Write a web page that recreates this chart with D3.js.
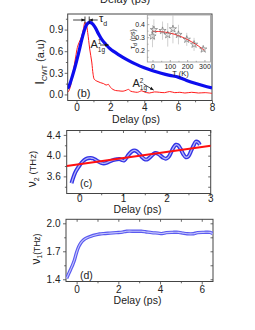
<!DOCTYPE html>
<html>
<head>
<meta charset="utf-8">
<script src="https://cdn.jsdelivr.net/npm/d3@7"></script>
<style>
  html, body { margin: 0; padding: 0; background: #fff; }
  svg { display: block; }
  text { font-family: "Liberation Sans", Arial, sans-serif; fill: #222; }
</style>
</head>
<body>
<svg id="chart" width="255" height="330"></svg>
<script>
// ---- data ----
// (b) CWT intensity vs delay
const cwtBlue = [[-0.52,0.08],[-0.4,0.14],[-0.25,0.25],[-0.1,0.37],[0,0.46],[0.15,0.6],[0.3,0.75],
  [0.45,0.88],[0.6,0.97],[0.75,1.0],[0.9,0.99],[1.1,0.93],[1.3,0.84],[1.5,0.76],[1.75,0.69],[2,0.63],
  [2.5,0.55],[3,0.48],[3.5,0.42],[4,0.37],[4.5,0.33],[5,0.295],[5.5,0.265],[6,0.24],[6.5,0.195],
  [7,0.155],[7.5,0.12],[8,0.09]];
const cwtRed = [[-0.52,0.03],[-0.45,0.05],[-0.35,0.12],[-0.25,0.25],[-0.15,0.38],[-0.05,0.52],
  [0.05,0.65],[0.15,0.72],[0.3,0.8],[0.4,0.9],[0.5,1.0],[0.58,0.97],[0.66,0.86],[0.78,0.63],[0.9,0.45],
  [0.98,0.28],[1.05,0.21],[1.2,0.185],[1.4,0.165],[1.6,0.15],[1.75,0.13],[1.88,0.14],[2.0,0.1],
  [2.15,0.07],[2.3,0.055],[2.5,0.05],[2.75,0.045],[2.95,0.06],[3.07,0.07],[3.2,0.045],[3.4,0.035],
  [3.6,0.03],[3.85,0.05],[4.0,0.035],[4.3,0.02],[4.6,0.035],[4.9,0.03],[5.2,0.025],[5.5,0.04],
  [5.8,0.025],[6.1,0.03],[6.4,0.02],[6.8,0.03],[7.2,0.02],[7.6,0.025],[8,0.015]];
// inset: tau_d vs temperature
const insetT   = [0, 8, 58, 88, 118, 150, 198, 240, 293];
const insetTau = [0.308, 0.357, 0.35, 0.318, 0.363, 0.32, 0.283, 0.245, 0.208];
const insetErr = [0.085, 0.08, 0.07, 0.09, 0.11, 0.075, 0.05, 0.05, 0.02];
const fitT   = [0, 50, 100, 150, 200, 250, 300];
const fitTau = [0.345, 0.342, 0.332, 0.312, 0.283, 0.246, 0.2];
// (c) nu2 vs delay
const nu2 = [[-0.18,3.47],[-0.13,3.6],[-0.08,3.7],[-0.03,3.77],[0.02,3.83],[0.08,3.89],[0.14,3.93],
  [0.2,3.95],[0.26,3.955],[0.32,3.945],[0.38,3.915],[0.44,3.885],[0.5,3.86],[0.56,3.85],[0.62,3.86],
  [0.68,3.885],[0.74,3.905],[0.8,3.92],[0.86,3.93],[0.92,3.935],[0.98,3.915],[1.02,3.905],[1.07,3.95],
  [1.13,4.02],[1.2,4.08],[1.26,4.1],[1.32,4.08],[1.38,4.03],[1.44,3.97],[1.5,3.93],[1.56,3.93],
  [1.62,3.97],[1.68,4.02],[1.74,4.05],[1.8,4.04],[1.86,4.0],[1.92,3.96],[1.98,3.94],[2.04,3.97],
  [2.1,4.06],[2.16,4.16],[2.21,4.21],[2.26,4.2],[2.32,4.13],[2.38,4.03],[2.44,3.97],[2.5,3.99],
  [2.56,4.09],[2.62,4.2],[2.67,4.27],[2.72,4.26],[2.76,4.21]];
const nu2Fit = [[-0.29,3.80],[3.01,4.19]];
// (d) nu1 vs delay
const nu1 = [[-0.48,1.41],[-0.4,1.45],[-0.3,1.5],[-0.2,1.55],[-0.1,1.61],[0,1.69],[0.1,1.75],
  [0.2,1.79],[0.35,1.825],[0.5,1.845],[0.7,1.862],[0.9,1.875],[1.1,1.885],[1.3,1.89],[1.6,1.895],
  [1.9,1.9],[2.2,1.905],[2.4,1.915],[2.8,1.915],[3.1,1.915],[3.3,1.91],[3.6,1.9],[3.9,1.895],
  [4.1,1.89],[4.3,1.9],[4.6,1.903],[4.9,1.903],[5.1,1.895],[5.3,1.888],[5.6,1.888],[5.8,1.9],
  [6.1,1.903],[6.4,1.903],[6.52,1.89]];

const bXTicks = [0, 2, 4, 6, 8], bYTicks = [0, 0.3, 0.6, 0.9];
const cXTicks = [0, 1, 2, 3], cYTicks = [3.6, 4.0, 4.4];
const dXTicks = [0, 2, 4, 6], dYTicks = [1.4, 1.7, 2.0];

const svg = d3.select("#chart");
const FRAME = "#444";

// one framed panel with scales + axes
function panel(o) {
  const x = d3.scaleLinear().domain(o.xd).range([o.l, o.r]);
  const y = d3.scaleLinear().domain(o.yd).range([o.b, o.t]);
  const g = svg.append("g");
  const fs = o.fs || 10;

  const bx = g.append("g").attr("transform", `translate(0,${o.b})`)
    .call(d3.axisBottom(x).tickValues(o.xt).tickSize(o.tick)
      .tickFormat(o.xfmt || d3.format("d")));
  // put the digits' baseline exactly where the reference has them
  bx.selectAll("text").attr("dy", null).attr("y", o.xlab);
  g.append("g").attr("transform", `translate(${o.l},0)`)
    .call(d3.axisLeft(y).tickValues(o.yt).tickSize(o.tick).tickPadding(o.ypad)
      .tickFormat(o.yfmt || d3.format(".1f")));
  // minor ticks
  if (o.xm) g.append("g").attr("transform", `translate(0,${o.b})`)
    .call(d3.axisBottom(x).tickValues(o.xm).tickSize(o.tick * 0.6).tickFormat(""));
  if (o.ym) g.append("g").attr("transform", `translate(${o.l},0)`)
    .call(d3.axisLeft(y).tickValues(o.ym).tickSize(o.tick * 0.6).tickFormat(""));
  // mirror ticks, inward
  if (o.mirror) {
    g.append("g").attr("transform", `translate(0,${o.t})`)
      .call(d3.axisBottom(x).tickValues(o.xt.concat(o.xm || [])).tickSize(2.5).tickFormat(""));
    g.append("g").attr("transform", `translate(${o.r},0)`)
      .call(d3.axisRight(y).tickValues(o.yt.concat(o.ym || [])).tickSize(-2.5).tickFormat(""));
  }
  g.selectAll(".domain").remove();
  g.selectAll(".tick line").attr("stroke", o.stroke || FRAME).attr("stroke-width", 0.8);
  g.selectAll(".tick text").attr("font-size", fs).attr("font-family", null).style("fill", "#222");

  g.append("rect").attr("x", o.l).attr("y", o.t)
    .attr("width", o.r - o.l).attr("height", o.b - o.t)
    .attr("fill", o.fill || "none").attr("stroke", o.stroke || FRAME).attr("stroke-width", o.sw || 1)
    .lower();
  const clipId = "clip" + Math.random().toString(36).slice(2, 7);
  svg.append("clipPath").attr("id", clipId).append("rect")
    .attr("x", o.l).attr("y", o.t).attr("width", o.r - o.l).attr("height", o.b - o.t);
  const plot = g.append("g").attr("clip-path", `url(#${clipId})`);
  return { x, y, g, plot };
}

const line = (p) => d3.line().x(d => p.x(d[0])).y(d => p.y(d[1])).curve(d3.curveCatmullRom);

// ---- cut-off label from the panel above ----
svg.append("text").attr("x", 125).attr("y", 3).attr("text-anchor", "middle")
  .attr("font-size", 11).text("Delay (ps)");

// ---- (b) ----
const pb = panel({ l: 67.7, r: 212, t: 14, b: 100.5, xd: [-0.52, 8], yd: [-0.084, 1.116],
  xt: bXTicks, yt: bYTicks, xm: [1, 3, 5, 7], ym: [0.15, 0.45, 0.75, 1.05],
  tick: 3, xlab: 10.5, ypad: 1.5, fs: 10 });
pb.plot.append("path").attr("d", line(pb)(cwtRed))
  .attr("fill", "none").attr("stroke", "#ff1a1a").attr("stroke-width", 1);
pb.plot.append("path").attr("d", line(pb)(cwtBlue))
  .attr("fill", "none").attr("stroke", "#0d0dee").attr("stroke-width", 3.2);

svg.append("text").attr("x", 136).attr("y", 123).attr("text-anchor", "middle")
  .attr("font-size", 10.5).text("Delay (ps)");
const yb = svg.append("text").attr("transform", "translate(44,62) rotate(-90)")
  .attr("text-anchor", "middle").attr("font-size", 11);
yb.append("tspan").attr("font-size", 13).text("I");
yb.append("tspan").attr("font-size", 7).attr("dy", 3).text("CWT");
yb.append("tspan").attr("dy", -3).text(" (a.u)");
svg.append("text").attr("x", 77).attr("y", 96.5).attr("font-size", 11).text("(b)");

// arrows / annotations
const defs = svg.append("defs");
defs.append("marker").attr("id", "ah").attr("viewBox", "0 0 10 10").attr("refX", 9).attr("refY", 5)
  .attr("markerWidth", 5).attr("markerHeight", 5).attr("orient", "auto-start-reverse")
  .append("path").attr("d", "M0,1 L10,5 L0,9 Z").attr("fill", "#111");
const ann = svg.append("g").attr("stroke", "#111").attr("stroke-width", 0.8).attr("fill", "none");
const redPeak = pb.x(0.5), bluePeak = pb.x(0.75);
ann.append("line").attr("x1", pb.x(-0.2)).attr("x2", redPeak).attr("y1", 20).attr("y2", 20)
  .attr("marker-end", "url(#ah)");
ann.append("line").attr("x1", pb.x(1.25)).attr("x2", bluePeak).attr("y1", 20).attr("y2", 20)
  .attr("marker-end", "url(#ah)");
ann.append("line").attr("x1", redPeak).attr("x2", redPeak).attr("y1", 16.5).attr("y2", 23.5);
ann.append("line").attr("x1", bluePeak).attr("x2", bluePeak).attr("y1", 16.5).attr("y2", 23.5);
ann.append("line").attr("x1", 100).attr("x2", 108.5).attr("y1", 45).attr("y2", 45)
  .attr("marker-end", "url(#ah)");
ann.append("line").attr("x1", 143.5).attr("x2", 153.5).attr("y1", 84).attr("y2", 90)
  .attr("marker-end", "url(#ah)");

const tau = svg.append("text").attr("x", 99).attr("y", 22).attr("font-size", 11);
tau.append("tspan").text("τ");
tau.append("tspan").attr("font-size", 7).attr("dy", 4).text("d");
function aLabel(x, y, sup) {
  const t = svg.append("text").attr("x", x).attr("y", y).attr("font-size", 11);
  t.append("tspan").text("A");
  t.append("tspan").attr("font-size", 6.5).attr("dy", 3.5).text("1g");
  svg.append("text").attr("x", x + 7.3).attr("y", y - 4).attr("font-size", 6.5).text(sup);
}
aLabel(90.5, 48, "1");
aLabel(132.5, 86.5, "2");

// ---- inset ----
const pi = panel({ l: 147.3, r: 210.5, t: 15, b: 62, xd: [-30, 335], yd: [0.11, 0.47],
  xt: [0, 100, 200, 300], yt: [0.2, 0.3, 0.4], xm: [50, 150, 250], ym: [0.15, 0.25, 0.35, 0.45],
  tick: -2, xlab: 6.5, ypad: 2.3, fs: 7, stroke: "#999", sw: 0.8, fill: "#fff" });
const insetPts = insetT.map((t, i) => ({ t, v: insetTau[i], e: insetErr[i] }));
pi.plot.selectAll(".err").data(insetPts).join("line")
  .attr("x1", d => pi.x(d.t)).attr("x2", d => pi.x(d.t))
  .attr("y1", d => pi.y(d.v - d.e)).attr("y2", d => pi.y(d.v + d.e))
  .attr("stroke", "#c4c4c4").attr("stroke-width", 0.8);
pi.plot.append("path").attr("d", line(pi)(fitT.map((t, i) => [t, fitTau[i]])))
  .attr("fill", "none").attr("stroke", "#ff2020").attr("stroke-width", 1);
pi.plot.selectAll(".star").data(insetPts).join("path")
  .attr("transform", d => `translate(${pi.x(d.t)},${pi.y(d.v)})`)
  .attr("d", d3.symbol(d3.symbolStar, 16))
  .attr("fill", "none").attr("stroke", "#777").attr("stroke-width", 0.7);
svg.append("text").attr("x", 180.5).attr("y", 76).attr("text-anchor", "middle")
  .attr("font-size", 7.5).text("T (K)");
const yi = svg.append("text").attr("transform", "translate(134.5,39) rotate(-90)")
  .attr("text-anchor", "middle").attr("font-size", 7);
yi.append("tspan").text("τ");
yi.append("tspan").attr("font-size", 5).attr("dy", 2).text("d");
yi.append("tspan").attr("dy", -2).text(" (ps)");

// ---- (c) ----
const pc = panel({ l: 66.7, r: 210.7, t: 130.5, b: 193.5, xd: [-0.29, 3.01], yd: [3.27, 4.485],
  xt: cXTicks, yt: cYTicks, xm: [0.5, 1.5, 2.5], ym: [3.4, 3.8, 4.2],
  tick: 3, xlab: 8.5, ypad: 3, mirror: true, fs: 10 });
pc.plot.append("path").attr("d", line(pc)(nu2))
  .attr("fill", "none").attr("stroke", "#3232e6").attr("stroke-width", 4);
pc.plot.append("path").attr("d", line(pc)(nu2))
  .attr("fill", "none").attr("stroke", "#b4b4f6").attr("stroke-width", 1.3);
pc.plot.append("path").attr("d", d3.line().x(d => pc.x(d[0])).y(d => pc.y(d[1]))(nu2Fit))
  .attr("fill", "none").attr("stroke", "#ff1010").attr("stroke-width", 2);
svg.append("text").attr("x", 80).attr("y", 187).attr("font-size", 10.5).text("(c)");
svg.append("text").attr("x", 137.5).attr("y", 213).attr("text-anchor", "middle")
  .attr("font-size", 10.5).text("Delay (ps)");
const yc = svg.append("text").attr("transform", "translate(36,169) rotate(-90)")
  .attr("text-anchor", "middle").attr("font-size", 9.5);
yc.append("tspan").attr("font-size", 12).text("ν");
yc.append("tspan").attr("font-size", 7).attr("dy", 2.5).text("2");
yc.append("tspan").attr("dy", -2.5).text(" (THz)");

// ---- (d) ----
const pd = panel({ l: 66, r: 213, t: 219.3, b: 281.5, xd: [-0.51, 6.54], yd: [1.376, 2.043],
  xt: dXTicks, yt: dYTicks, xm: [1, 3, 5], ym: [1.55, 1.85],
  tick: 3, xlab: 11, ypad: 2.5, mirror: true, fs: 10 });
pd.plot.append("path").attr("d", line(pd)(nu1))
  .attr("fill", "none").attr("stroke", "#5a5af0").attr("stroke-width", 3.4);
pd.plot.append("path").attr("d", line(pd)(nu1))
  .attr("fill", "none").attr("stroke", "#c6c6fa").attr("stroke-width", 1.1);
svg.append("text").attr("x", 80).attr("y", 278.5).attr("font-size", 10.5).text("(d)");
svg.append("text").attr("x", 137.5).attr("y", 304).attr("text-anchor", "middle")
  .attr("font-size", 10.5).text("Delay (ps)");
const yd = svg.append("text").attr("transform", "translate(39.5,249) rotate(-90)")
  .attr("text-anchor", "middle").attr("font-size", 8.5);
yd.append("tspan").attr("font-size", 12).text("ν");
yd.append("tspan").attr("font-size", 6.5).attr("dy", 2.5).text("1");
yd.append("tspan").attr("dy", -2.5).text("(THz)");
</script>
</body>
</html>
